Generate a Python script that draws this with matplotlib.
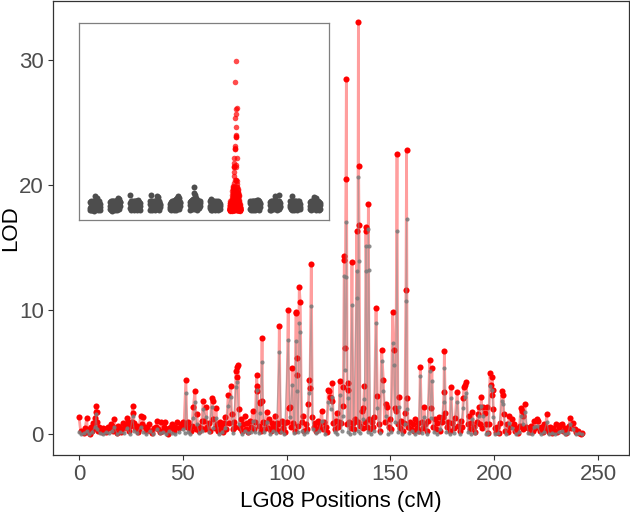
import numpy as np
import matplotlib
matplotlib.use("Agg")
from matplotlib import pyplot as plt

plt.rcParams['font.family'] = ['Liberation Sans', 'DejaVu Sans']

# LG08 scan, red series (position cM, LOD)
lg08_red = [
    (0.0, 1.4), (0.8, 0.3), (1.5, 0.2), (2.2, 0.1), (3.0, 0.5), (3.7, 1.3), (4.2, 0.2), (4.8, 0.4),
    (5.3, 0.0), (5.9, 0.6), (6.4, 0.3), (7.0, 0.9), (7.5, 0.5), (7.7, 1.3), (8.0, 1.8), (8.2, 2.3),
    (8.5, 1.8), (8.8, 1.0), (9.2, 0.3), (9.8, 0.6), (10.4, 0.35), (11.0, 0.2), (11.6, 0.5), (12.5, 0.4),
    (13.2, 0.2), (14.0, 0.6), (14.6, 0.55), (15.3, 0.8), (16.0, 0.7), (16.5, 0.3), (17.0, 1.2), (17.6, 0.5),
    (18.2, 0.1), (18.8, 0.7), (19.4, 0.6), (19.7, 0.4), (20.3, 0.2), (21.0, 0.9), (21.6, 0.5), (22.2, 0.7),
    (23.0, 1.3), (23.7, 1.0), (24.2, 0.3), (24.8, 0.7), (25.4, 1.0), (25.8, 2.3), (26.2, 1.75), (26.6, 0.9),
    (27.2, 0.5), (27.8, 0.7), (28.3, 0.2), (28.9, 0.4), (29.7, 1.5), (30.2, 0.8), (31.0, 1.4), (31.6, 0.6),
    (32.3, 0.3), (33.0, 0.5), (33.9, 0.8), (34.6, 0.3), (35.4, 0.1), (36.2, 0.5), (37.1, 0.6), (37.4, 1.1),
    (38.2, 0.4), (38.8, 0.2), (39.3, 1.0), (40.1, 0.3), (40.8, 0.6), (41.4, 1.0), (42.2, 0.3), (42.9, 0.0),
    (43.6, 0.5), (44.2, 0.6), (45.0, 0.8), (45.6, 0.3), (46.4, 0.6), (47.4, 1.0), (48.2, 0.5), (49.0, 0.8),
    (49.9, 1.0), (50.6, 0.7), (51.5, 4.4), (52.0, 0.6), (52.6, 1.0), (53.2, 0.5), (53.8, 0.3), (54.4, 0.7),
    (55.1, 2.2), (55.9, 3.5), (56.3, 0.4), (56.7, 1.6), (57.3, 0.7), (58.0, 0.3), (58.6, 0.5), (59.2, 1.1),
    (59.9, 2.7), (60.2, 1.1), (60.8, 0.4), (61.2, 2.2), (61.8, 0.6), (62.5, 0.9), (63.2, 0.3), (63.9, 2.9),
    (64.4, 2.7), (64.8, 1.2), (65.4, 0.5), (66.0, 2.1), (66.5, 0.8), (67.2, 0.3), (67.8, 1.0), (68.5, 0.6),
    (69.2, 0.2), (69.9, 0.9), (70.5, 1.4), (71.0, 0.4), (71.9, 3.2), (72.4, 0.9), (73.1, 3.9), (73.5, 1.6),
    (74.0, 0.4), (74.6, 1.0), (75.2, 0.6), (75.6, 5.1), (75.9, 4.6), (76.2, 5.4), (76.7, 5.6), (77.0, 2.0),
    (77.5, 0.5), (78.0, 1.2), (78.6, 0.3), (79.2, 0.8), (79.8, 1.5), (80.4, 0.4), (81.0, 0.9), (81.6, 0.2),
    (82.3, 1.1), (83.0, 0.6), (83.6, 1.9), (84.2, 0.4), (84.9, 1.0), (85.6, 4.8), (85.8, 3.9), (86.0, 3.5),
    (86.5, 0.7), (87.0, 2.5), (87.3, 2.6), (87.7, 0.3), (88.2, 7.7), (88.4, 2.7), (88.8, 1.0), (89.3, 0.4),
    (89.8, 0.9), (90.4, 1.8), (91.0, 0.5), (91.7, 1.2), (92.3, 0.3), (93.0, 0.9), (93.6, 0.6), (94.3, 1.5),
    (95.0, 0.4), (95.6, 0.9), (96.0, 0.8), (96.5, 8.7), (97.0, 0.3), (97.6, 1.1), (98.2, 0.5), (98.8, 0.9),
    (99.4, 0.2), (100.0, 1.0), (100.8, 10.0), (101.0, 2.1), (101.6, 2.2), (102.2, 0.6), (102.7, 5.3), (103.3, 0.9),
    (104.0, 0.3), (104.5, 9.8), (104.7, 9.7), (104.8, 6.1), (104.9, 4.8), (105.5, 0.7), (106.1, 11.8), (106.6, 10.6),
    (107.2, 1.0), (108.0, 1.5), (108.6, 0.3), (109.2, 0.8), (110.0, 0.4), (110.5, 2.4), (110.9, 4.4), (111.3, 3.7),
    (111.9, 13.7), (112.4, 1.4), (113.0, 0.6), (113.6, 0.9), (114.3, 0.3), (115.0, 1.1), (115.6, 0.5), (116.2, 0.8),
    (116.9, 1.9), (117.5, 0.4), (118.1, 1.0), (118.8, 0.6), (119.4, 0.2), (120.1, 3.6), (120.4, 3.5), (121.0, 3.0),
    (121.2, 2.9), (121.7, 2.7), (122.0, 4.1), (122.5, 0.9), (123.1, 0.4), (123.6, 1.1), (124.1, 1.7), (124.7, 0.6),
    (125.3, 1.0), (125.7, 4.3), (126.2, 0.9), (127.0, 3.8), (127.3, 2.3), (127.8, 14.3), (127.9, 14.0), (128.1, 6.9),
    (128.6, 20.5), (128.8, 28.5), (129.2, 0.8), (129.7, 4.1), (129.8, 3.6), (130.3, 1.0), (130.9, 0.5), (131.5, 13.8),
    (132.0, 0.9), (132.6, 0.4), (133.2, 1.2), (133.8, 16.3), (134.2, 1.0), (134.6, 33.1), (134.7, 21.5), (134.9, 16.8),
    (135.4, 0.7), (136.2, 1.9), (136.6, 0.5), (137.0, 2.1), (137.5, 3.9), (138.0, 1.0), (138.2, 16.6), (138.3, 16.3),
    (138.8, 0.6), (139.4, 18.5), (139.8, 1.2), (140.4, 0.4), (141.0, 1.0), (141.7, 0.6), (142.3, 1.4), (143.1, 10.1),
    (143.7, 3.1), (144.3, 0.8), (145.0, 0.3), (145.8, 6.8), (146.6, 4.4), (147.2, 1.0), (147.9, 2.4), (148.5, 2.2),
    (149.1, 0.6), (149.7, 1.2), (150.3, 0.4), (151.1, 9.8), (151.7, 6.8), (152.1, 2.1), (152.6, 1.9), (153.2, 22.5),
    (153.6, 0.8), (154.1, 3.0), (154.7, 0.5), (155.3, 1.1), (156.0, 0.3), (156.6, 0.9), (157.0, 1.7), (157.5, 11.6),
    (157.8, 22.8), (158.1, 2.9), (158.6, 0.6), (159.3, 1.0), (160.0, 0.4), (160.7, 0.8), (161.4, 0.3), (162.0, 1.2),
    (162.7, 0.5), (163.4, 0.9), (164.0, 0.3), (164.4, 5.4), (165.0, 1.0), (165.6, 0.5), (166.2, 2.2), (166.8, 0.8),
    (167.5, 0.3), (168.2, 1.1), (168.9, 6.0), (169.4, 2.1), (170.0, 5.3), (170.6, 0.6), (171.3, 1.2), (172.0, 0.4),
    (172.7, 0.9), (173.4, 1.4), (174.1, 0.3), (174.8, 1.0), (175.3, 1.4), (175.8, 3.4), (176.0, 6.7), (176.5, 1.7),
    (177.2, 0.6), (177.9, 1.0), (178.5, 0.3), (179.2, 3.8), (179.8, 0.9), (180.5, 0.5), (181.2, 1.3), (182.2, 3.4),
    (182.8, 0.7), (183.4, 0.3), (184.1, 1.1), (184.7, 0.6), (185.1, 2.9), (185.3, 3.8), (185.8, 4.0), (186.6, 4.2),
    (187.2, 0.8), (187.9, 1.5), (188.5, 0.4), (189.0, 0.9), (189.5, 1.8), (190.2, 0.6), (190.9, 0.2), (191.6, 1.0),
    (192.3, 1.6), (192.7, 2.2), (193.2, 0.8), (193.8, 3.0), (194.3, 0.5), (194.8, 2.2), (195.4, 1.7), (195.9, 0.8),
    (196.4, 2.2), (196.9, 0.1), (197.4, 0.8), (198.0, 4.9), (198.3, 4.0), (198.8, 3.2), (199.1, 4.6), (199.3, 3.6),
    (199.6, 2.0), (200.2, 0.5), (200.9, 0.2), (201.6, 0.6), (202.3, 0.1), (203.0, 0.9), (203.6, 3.5), (204.4, 3.2),
    (204.6, 1.6), (205.3, 0.3), (206.0, 0.8), (206.6, 0.2), (207.2, 1.5), (207.8, 0.6), (208.8, 1.2), (209.4, 0.8),
    (210.1, 0.3), (210.8, 0.5), (211.5, 0.1), (212.2, 0.7), (212.9, 2.1), (213.2, 1.9), (213.7, 0.4), (214.0, 1.5),
    (214.8, 2.4), (215.4, 0.6), (216.4, 0.55), (217.1, 0.2), (217.8, 0.7), (218.5, 0.3), (219.2, 1.1), (219.9, 0.5),
    (220.4, 1.2), (221.2, 1.1), (221.9, 0.3), (222.6, 0.6), (223.3, 0.2), (224.0, 0.8), (224.7, 0.4), (225.3, 1.6),
    (225.6, 0.55), (226.3, 0.2), (227.0, 0.6), (227.7, 0.1), (228.4, 0.5), (229.1, 0.3), (229.8, 0.8), (230.5, 0.2),
    (231.2, 0.6), (231.7, 0.75), (232.5, 0.8), (233.2, 0.3), (233.9, 0.5), (234.6, 0.1), (235.3, 0.4), (236.0, 0.7),
    (236.5, 1.3), (237.2, 0.5), (238.1, 0.9), (238.9, 0.4), (239.6, 0.2), (240.3, 0.3), (241.0, 0.1), (241.8, 0.0),
    (242.1, 0.1),
]

# LG08 scan, grey series (position cM, LOD)
lg08_grey = [
    (0.0, 0.2), (1.2, 0.0), (2.4, 0.1), (3.7, 0.3), (5.0, 0.0), (6.2, 0.2), (7.7, 0.6), (8.2, 1.6),
    (8.8, 0.4), (10.0, 0.1), (11.5, 0.0), (13.0, 0.2), (14.6, 0.1), (16.0, 0.3), (17.0, 0.6), (18.5, 0.0),
    (20.0, 0.2), (21.5, 0.1), (23.0, 0.5), (24.5, 0.0), (25.8, 1.5), (26.6, 0.3), (28.0, 0.1), (29.7, 0.6),
    (31.0, 0.2), (32.5, 0.0), (34.0, 0.3), (35.5, 0.0), (37.4, 0.4), (39.0, 0.1), (40.5, 0.2), (42.0, 0.0),
    (43.5, 0.3), (45.0, 0.1), (46.5, 0.0), (48.0, 0.2), (49.9, 0.4), (51.0, 0.1), (51.5, 3.3), (52.3, 0.2),
    (53.5, 0.0), (55.1, 1.3), (55.9, 2.6), (56.7, 0.8), (58.0, 0.1), (59.2, 0.3), (59.9, 2.0), (61.2, 1.4),
    (62.5, 0.2), (63.9, 2.2), (64.8, 0.5), (66.0, 1.3), (67.5, 0.0), (69.0, 0.2), (70.5, 0.5), (71.9, 2.3),
    (73.1, 3.0), (74.0, 0.1), (75.6, 3.8), (76.2, 4.2), (77.0, 0.8), (78.6, 0.0), (80.0, 0.3), (81.6, 0.1),
    (83.0, 0.2), (83.6, 1.1), (85.0, 0.2), (85.6, 3.6), (86.5, 0.1), (87.2, 1.7), (88.2, 5.8), (89.0, 0.2),
    (90.4, 1.0), (92.0, 0.0), (93.5, 0.3), (95.0, 0.1), (96.5, 6.6), (97.5, 0.2), (99.0, 0.0), (100.8, 7.6),
    (101.6, 1.4), (102.7, 4.0), (103.8, 0.1), (104.5, 7.5), (104.9, 3.5), (105.6, 0.2), (106.1, 8.9), (106.6, 8.2),
    (107.5, 0.3), (108.6, 0.0), (110.0, 0.2), (110.9, 3.3), (111.9, 10.3), (112.6, 0.4), (114.0, 0.1), (115.5, 0.3),
    (116.9, 1.1), (118.5, 0.0), (120.1, 2.6), (121.2, 2.0), (122.0, 3.0), (123.1, 0.2), (124.5, 0.0), (125.7, 3.2),
    (126.5, 0.3), (127.3, 1.5), (127.8, 12.7), (128.1, 5.2), (128.7, 12.6), (128.8, 17.0), (129.5, 0.2), (129.7, 2.9),
    (130.5, 0.0), (131.5, 10.4), (132.3, 0.1), (133.8, 13.1), (133.9, 10.9), (134.3, 0.3), (134.6, 20.6), (134.9, 13.9),
    (135.6, 0.1), (137.0, 1.2), (137.5, 2.8), (138.2, 15.1), (138.3, 13.1), (139.0, 0.2), (139.4, 16.5), (139.5, 15.1),
    (139.6, 13.2), (140.5, 0.0), (142.0, 0.3), (143.1, 8.9), (143.7, 2.1), (144.8, 0.1), (145.8, 5.9), (146.6, 3.5),
    (147.9, 1.5), (149.0, 0.0), (150.3, 0.2), (151.1, 7.3), (151.7, 5.6), (152.4, 1.0), (153.2, 16.3), (153.8, 0.2),
    (154.1, 2.2), (155.5, 0.0), (157.0, 0.8), (157.5, 10.7), (157.8, 17.3), (158.1, 2.0), (159.0, 0.1), (160.5, 0.3),
    (162.0, 0.0), (163.5, 0.2), (164.4, 4.7), (165.2, 0.1), (166.2, 1.4), (167.5, 0.0), (168.9, 5.1), (169.4, 1.3),
    (170.0, 4.3), (171.0, 0.2), (172.5, 0.0), (174.0, 0.4), (175.8, 2.6), (176.0, 5.3), (177.0, 0.2), (178.5, 0.0),
    (179.2, 2.9), (180.5, 0.1), (182.2, 2.6), (183.4, 0.0), (185.1, 2.1), (185.8, 3.0), (186.6, 3.3), (187.5, 0.2),
    (189.0, 0.0), (189.5, 1.2), (191.0, 0.1), (192.7, 1.5), (193.8, 2.3), (194.8, 1.5), (196.0, 0.0), (197.0, 0.1),
    (198.0, 3.9), (199.1, 3.6), (199.6, 1.4), (200.5, 0.0), (202.0, 0.1), (203.6, 2.7), (204.4, 2.4), (205.5, 0.0),
    (207.2, 0.9), (208.8, 0.5), (210.5, 0.0), (212.0, 0.2), (212.9, 1.5), (214.0, 0.8), (214.8, 1.8), (216.4, 0.1),
    (218.0, 0.0), (219.2, 0.6), (220.8, 0.7), (222.5, 0.0), (224.0, 0.2), (225.3, 1.0), (226.5, 0.0), (228.0, 0.1),
    (229.5, 0.0), (231.0, 0.2), (232.5, 0.3), (234.0, 0.0), (235.5, 0.1), (236.5, 0.8), (238.1, 0.4), (239.5, 0.0),
    (241.0, 0.1), (242.1, 0.0),
]

# genome-wide scan for the inset: LOD per marker, in marker order, per linkage group
lg01 = [0.1, 1.9, 0.6, 2.2, 1.2, 0.3, 1.7, 2.0, 0.8, 1.4, 0.2, 2.1, 1.0, 1.8, 0.5, 2.3, 1.3, 0.0, 1.6, 2.2,
        0.9, 3.2, 1.5, 0.4, 2.0, 1.1, 2.3, 0.7, 2.8, 1.9, 0.3, 1.4, 2.1, 0.6, 1.7, 1.0, 2.2, 0.2, 1.5, 0.8]
lg02 = [0.4, 2.0, 1.1, 0.2, 1.8, 2.2, 0.7, 1.4, 2.1, 0.0, 1.6, 0.9, 2.3, 1.2, 0.5, 1.9, 2.2, 0.8, 1.5, 0.3,
        2.0, 1.3, 2.2, 0.6, 1.7, 1.0, 2.4, 0.2, 1.8, 1.4, 2.1, 2.8, 0.7, 2.3, 1.6, 2.6, 0.4, 1.9, 1.1, 2.0]
lg03 = [0.6, 1.7, 3.5, 0.9, 2.1, 1.4, 0.2, 2.2, 1.0, 1.8, 0.4, 2.0, 1.3, 0.7, 2.3, 1.6, 0.1, 1.9, 2.2, 1.1,
        0.5, 2.0, 1.5, 2.3, 0.8, 1.7, 0.3, 2.1, 1.2, 2.5, 1.9, 0.6, 2.2, 1.4, 0.9, 2.0, 1.6, 0.2, 1.8, 1.1]
lg04 = [0.3, 2.1, 1.5, 3.6, 0.8, 1.9, 2.2, 0.1, 1.3, 1.8, 2.3, 0.6, 1.6, 2.0, 1.1, 0.4, 2.2, 1.7, 0.9, 2.1,
        1.4, 0.2, 1.9, 2.3, 1.0, 2.0, 0.7, 1.5, 3.4, 2.2, 0.5, 3.1, 1.8, 2.3, 1.2, 0.3, 2.0, 1.6, 0.9, 1.4]
lg05 = [0.5, 1.6, 0.9, 2.0, 0.2, 1.3, 1.8, 0.7, 2.1, 1.1, 0.4, 1.9, 2.2, 1.5, 0.1, 1.7, 2.3, 0.8, 1.2, 2.0,
        0.6, 2.4, 1.4, 2.6, 1.9, 0.3, 2.2, 1.0, 2.8, 1.6, 2.3, 3.3, 0.7, 2.9, 2.1, 1.3, 0.4, 2.0, 1.7, 1.0]
lg06 = [0.2, 1.9, 1.3, 2.3, 0.8, 1.6, 2.2, 1.0, 2.4, 0.5, 2.1, 1.7, 2.6, 1.2, 5.4, 2.3, 0.4, 3.9, 1.9, 3.5,
        2.2, 1.1, 2.8, 0.7, 2.4, 1.6, 2.0, 0.3, 2.5, 1.4, 2.2, 0.9, 1.8, 2.3, 0.6, 2.0, 1.5, 2.2, 1.1, 1.8]
lg07 = [0.7, 2.2, 1.2, 2.4, 0.3, 2.6, 1.8, 0.9, 2.0, 1.5, 0.1, 2.3, 1.1, 1.9, 0.5, 1.6, 2.1, 0.8, 1.4, 2.0,
        0.2, 1.7, 1.2, 2.2, 0.6, 1.5, 1.9, 0.4, 1.8, 1.0, 2.1, 0.3, 1.3, 1.7, 0.9, 2.0, 1.1, 0.5, 1.6, 1.2]
lg09 = [0.4, 1.8, 2.2, 0.9, 1.5, 0.1, 2.0, 1.2, 2.3, 0.6, 1.7, 1.9, 0.3, 2.1, 1.4, 0.8, 2.2, 1.6, 0.2, 1.9,
        1.1, 2.3, 0.7, 1.8, 2.1, 1.3, 0.5, 2.0, 2.5, 1.5, 2.2, 0.9, 2.4, 1.7, 0.3, 2.1, 1.4, 1.8, 0.8, 1.6]
lg10 = [0.3, 2.0, 1.4, 0.8, 2.2, 1.7, 0.1, 1.9, 1.2, 2.3, 0.6, 1.5, 2.1, 0.9, 1.8, 0.4, 2.2, 1.6, 2.4, 3.4,
        1.3, 2.0, 0.7, 2.3, 1.1, 1.8, 0.2, 2.1, 1.5, 2.2, 0.9, 2.0, 1.4, 3.6, 1.9, 0.5, 2.2, 1.2, 1.7, 0.8]
lg11 = [0.8, 2.1, 1.3, 2.2, 0.4, 1.9, 1.0, 2.3, 1.6, 3.2, 0.2, 2.0, 1.4, 0.7, 2.2, 1.8, 1.1, 0.3, 2.1, 1.5,
        0.9, 1.9, 2.3, 0.5, 1.7, 1.2, 2.0, 0.1, 1.6, 2.2, 1.0, 2.0, 1.3, 0.6, 1.8, 1.1, 2.1, 0.4, 1.5, 0.9]
lg12 = [0.5, 2.0, 1.2, 1.8, 0.3, 2.2, 1.5, 0.8, 2.1, 1.0, 1.7, 2.3, 0.4, 1.9, 1.3, 2.2, 3.0, 1.6, 0.7, 2.4,
        1.1, 2.0, 0.2, 1.8, 2.9, 1.4, 2.3, 0.6, 2.1, 1.2, 1.7, 0.9, 2.2, 0.3, 1.6, 2.0, 1.0, 1.8, 0.5, 1.3]
other_lgs = {1: lg01, 2: lg02, 3: lg03, 4: lg04, 5: lg05, 6: lg06, 7: lg07,
             9: lg09, 10: lg10, 11: lg11, 12: lg12}

red_pos, red_lod = np.array(lg08_red).T
grey_pos, grey_lod = np.array(lg08_grey).T

fig = plt.figure(figsize=(6.3, 5.19), dpi=100)
ax = fig.add_axes([53 / 630, 1 - 455 / 519, 575.5 / 630, 454 / 519])

ax.plot(red_pos, red_lod, color='red', alpha=0.38, lw=2.0, zorder=2)
ax.plot(red_pos, red_lod, 'o', color='red', ms=4.4, mec='none', zorder=3)
ax.plot(grey_pos, grey_lod, color='#8c8c8c', alpha=0.55, lw=0.9, zorder=4)
ax.plot(grey_pos, grey_lod, 'o', color='#7a7a7a', ms=3.0, mec='none', alpha=0.85, zorder=5)

ax.set_xlim(-12.5, 264.7)
ax.set_ylim(-1.65, 34.75)
ax.set_xticks([0, 50, 100, 150, 200, 250])
ax.set_yticks([0, 10, 20, 30])
ax.tick_params(colors='#333333', labelcolor='#4d4d4d', labelsize=16, length=3.5, width=0.8, pad=3)
for s in ax.spines.values():
    s.set_color('#333333')
    s.set_linewidth(0.9)
ax.set_xlabel('LG08 Positions (cM)', fontsize=16, labelpad=4)
ax.set_ylabel('LOD', fontsize=16)
ax.yaxis.set_label_coords(-0.056, 0.5)

# inset: genome-wide view, one block per linkage group
ins = fig.add_axes([79.3 / 630, 1 - 220 / 519, 250 / 630, 197.3 / 519])
lead, span = 0.15, 0.53
for k, vals in other_lgs.items():
    xs = (k - 1) + lead + np.linspace(0, span, len(vals))
    ins.plot(xs, vals, 'o', color='#4d4d4d', ms=4.3, mec='none')
ins.plot(7 + lead + red_pos / red_pos.max() * span, red_lod, 'o', color='red', ms=4.0, mec='none', alpha=0.7)
ins.set_xlim(-0.37, 12.13)
ins.set_ylim(-2.0, 41.6)
ins.set_xticks([])
ins.set_yticks([])
for s in ins.spines.values():
    s.set_color('#7f7f7f')
    s.set_linewidth(0.9)

fig.savefig('out.png', dpi=100)
